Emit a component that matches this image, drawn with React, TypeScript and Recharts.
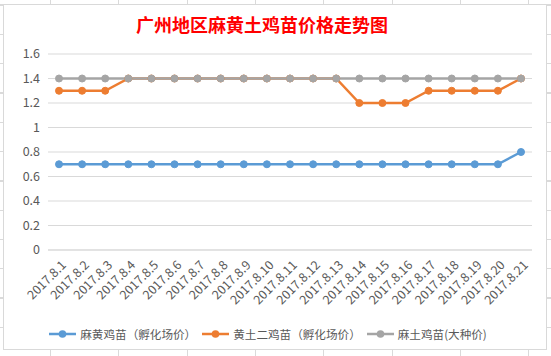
import React from "react";
import { CartesianGrid, Legend, Line, LineChart, XAxis, YAxis } from "recharts";

const dates = [
  "2017.8.1", "2017.8.2", "2017.8.3", "2017.8.4", "2017.8.5", "2017.8.6", "2017.8.7",
  "2017.8.8", "2017.8.9", "2017.8.10", "2017.8.11", "2017.8.12", "2017.8.13", "2017.8.14",
  "2017.8.15", "2017.8.16", "2017.8.17", "2017.8.18", "2017.8.19", "2017.8.20", "2017.8.21",
];
const mahuang = [0.7, 0.7, 0.7, 0.7, 0.7, 0.7, 0.7, 0.7, 0.7, 0.7, 0.7, 0.7, 0.7, 0.7, 0.7, 0.7, 0.7, 0.7, 0.7, 0.7, 0.8];
const huangtu2 = [1.3, 1.3, 1.3, 1.4, 1.4, 1.4, 1.4, 1.4, 1.4, 1.4, 1.4, 1.4, 1.4, 1.2, 1.2, 1.2, 1.3, 1.3, 1.3, 1.3, 1.4];
const matu = [1.4, 1.4, 1.4, 1.4, 1.4, 1.4, 1.4, 1.4, 1.4, 1.4, 1.4, 1.4, 1.4, 1.4, 1.4, 1.4, 1.4, 1.4, 1.4, 1.4, 1.4];
const yTicks = [0, 0.2, 0.4, 0.6, 0.8, 1, 1.2, 1.4, 1.6];
const seriesOrder = ["mahuang", "huangtu2", "matu"];

const rows = dates.map((d, i) => ({
  date: d,
  mahuang: mahuang[i],
  huangtu2: huangtu2[i],
  matu: matu[i],
}));

const FONT = '"Noto Sans CJK SC", "Microsoft YaHei", sans-serif';

function DateTick({ x, y, payload }: any) {
  const ax = x + 4;
  const ay = y + 4;
  return (
    <text
      x={ax}
      y={ay}
      transform={`rotate(-45, ${ax}, ${ay})`}
      textAnchor="end"
      dominantBaseline="central"
      fontSize={12.5}
      fill="#595959"
      fontFamily={FONT}
    >
      {payload.value}
    </text>
  );
}

function LegendRow({ payload }: any) {
  const items = [...(payload || [])].sort(
    (a: any, b: any) => seriesOrder.indexOf(a.dataKey) - seriesOrder.indexOf(b.dataKey)
  );
  return (
    <div
      style={{
        display: "flex",
        justifyContent: "center",
        alignItems: "center",
        height: 30,
        fontFamily: FONT,
        fontSize: 11.6,
        color: "#595959",
      }}
    >
      {items.map((it: any) => (
        <div key={it.dataKey} style={{ display: "flex", alignItems: "center", margin: "0 3px" }}>
          <svg width={27} height={10} style={{ marginRight: 4 }}>
            <line x1={0} y1={5} x2={27} y2={5} stroke={it.color} strokeWidth={2.5} />
            <circle cx={13.5} cy={5} r={3.8} fill={it.color} />
          </svg>
          <span style={{ whiteSpace: "nowrap" }}>{it.value}</span>
        </div>
      ))}
    </div>
  );
}

export default function App() {
  return (
    <div
      style={{
        position: "fixed",
        left: 0,
        top: 0,
        width: 551,
        height: 356,
        background: "#fff",
        backgroundImage:
          "repeating-linear-gradient(90deg, transparent 0 50px, #dadada 50px 51px, transparent 51px 68.3px), repeating-linear-gradient(0deg, transparent 0 28px, #dadada 28px 29.3px)",
      }}
    >
      <div
        style={{
          position: "absolute",
          left: 3,
          top: 4,
          width: 544,
          height: 346,
          background: "#fff",
          border: "1px solid #d9d9d9",
          boxSizing: "border-box",
        }}
      >
        <div
          style={{
            position: "absolute",
            left: 0,
            top: 6,
            width: 516,
            textAlign: "center",
            color: "#ff0000",
            fontSize: 18,
            fontWeight: "bold",
            fontFamily: FONT,
          }}
        >
          广州地区麻黄土鸡苗价格走势图
        </div>
        <LineChart
          width={542}
          height={344}
          data={rows}
          margin={{ top: 49, right: 14, bottom: 10, left: 0 }}
        >
          <CartesianGrid vertical={false} stroke="#d9d9d9" />
          <XAxis
            dataKey="date"
            interval={0}
            tick={<DateTick />}
            tickLine={false}
            axisLine={{ stroke: "#d9d9d9" }}
            padding={{ left: 11, right: 11 }}
            height={59}
          />
          <YAxis
            domain={[0, 1.6]}
            ticks={yTicks}
            width={44}
            axisLine={false}
            tickLine={false}
            tick={{ fontSize: 12.5, fill: "#595959", fontFamily: FONT }}
          />
          <Legend
            verticalAlign="bottom"
            height={30}
            content={<LegendRow />}
            wrapperStyle={{ bottom: 0 }}
          />
          <Line
            type="linear"
            dataKey="mahuang"
            name="麻黄鸡苗（孵化场价）"
            stroke="#5b9bd5"
            strokeWidth={2.5}
            dot={{ r: 3.5, fill: "#5b9bd5", stroke: "#5b9bd5", strokeWidth: 1 }}
            isAnimationActive={false}
          />
          <Line
            type="linear"
            dataKey="huangtu2"
            name="黄土二鸡苗（孵化场价）"
            stroke="#ed7d31"
            strokeWidth={2.5}
            dot={{ r: 3.5, fill: "#ed7d31", stroke: "#ed7d31", strokeWidth: 1 }}
            isAnimationActive={false}
          />
          <Line
            type="linear"
            dataKey="matu"
            name="麻土鸡苗(大种价)"
            stroke="#a5a5a5"
            strokeWidth={2.5}
            dot={{ r: 3.5, fill: "#a5a5a5", stroke: "#a5a5a5", strokeWidth: 1 }}
            isAnimationActive={false}
          />
        </LineChart>
      </div>
    </div>
  );
}
